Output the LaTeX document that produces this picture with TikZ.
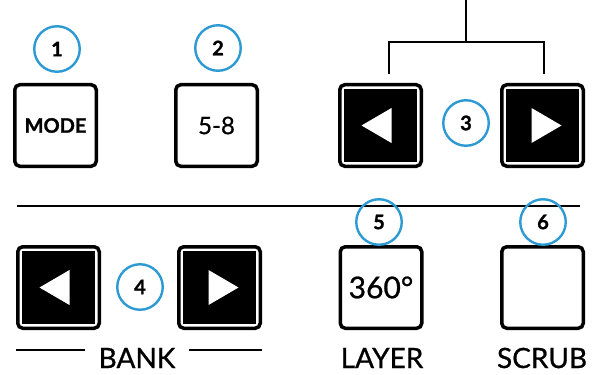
\documentclass[tikz,border=0pt]{standalone}
\usepackage{fontspec}
\setmainfont{Lato}
\newfontfamily\keyfont{Lato}[UprightFeatures={FakeBold=0.8}]
\newfontfamily\badgefont{Lato Bold}[UprightFeatures={FakeBold=1.2}]
\usetikzlibrary{positioning}
\definecolor{callout}{HTML}{2E9AD3}

\begin{document}
\begin{tikzpicture}[
    x=1pt, y=-1pt,
    key/.style={rectangle, draw=black, line width=3.5pt, rounded corners=5pt, fill=white, minimum size=81.5pt, inner sep=0pt},
    keyface/.style={rectangle, fill=black, minimum size=73pt, inner sep=0pt},
    badge/.style={circle, draw=callout, line width=2.4pt, minimum size=45.5pt, inner sep=0pt, font=\fontsize{20}{20}\badgefont},
    caption/.style={font=\fontsize{28}{28}\keyfont, inner sep=0pt}
]
\useasboundingbox (0,0) rectangle (593,374);

% top row keys
\node[key, font=\fontsize{20}{20}\badgefont] (mode) at (55.5,125.5) {MODE};
\node[key, font=\fontsize{24}{24}\keyfont] (page) at (216.5,125.5) {5-8};
\node[key] (navl) at (380.5,125.5) {};
\node[keyface] at (navl) {};
\node[key] (navr) at (542.5,125.5) {};
\node[keyface] at (navr) {};
\fill[white, shift={(navl.center)}] (-19,0) -- (11,-17.5) -- (11,17.5) -- cycle;
\fill[white, shift={(navr.center)}] (19,0) -- (-11,-17.5) -- (-11,17.5) -- cycle;

% bracket over the nav keys
\coordinate (brtop) at (466,0);
\coordinate (brmid) at (466,42);
\coordinate (brl) at (389,74);
\coordinate (brr) at (544,74);
\draw[line width=2.5pt] (brtop) -- (brmid);
\draw[line width=2.5pt] (brl) |- (brmid) -| (brr);

% divider
\coordinate (divl) at (17,206);
\coordinate (divr) at (580,206);
\draw[line width=2.8pt] (divl) -- (divr);

% bottom row keys
\node[key] (bankl) at (58.5,287.5) {};
\node[keyface] at (bankl) {};
\node[key] (bankr) at (219.5,287.5) {};
\node[keyface] at (bankr) {};
\fill[white, shift={(bankl.center)}] (-19,0) -- (11,-17.5) -- (11,17.5) -- cycle;
\fill[white, shift={(bankr.center)}] (19,0) -- (-11,-17.5) -- (-11,17.5) -- cycle;
\node[key, font=\fontsize{30}{30}\keyfont] (layer) at (381,287.5) {360°};
\node[key] (scrub) at (542.5,287.5) {};

% labels
\node[caption] (banktxt) at (137,358) {BANK};
\node[caption] (layertxt) at (382,358) {LAYER};
\node[caption] (scrubtxt) at (542,358) {SCRUB};
\coordinate (bkl) at (16,350);
\coordinate (bkr) at (262,350);
\draw[line width=2.5pt] (bkl) -- ([xshift=-13pt]banktxt.west |- bkl);
\draw[line width=2.5pt] (bkr) -- ([xshift=13pt]banktxt.east |- bkr);

% callout numbers
\node[badge] (c1) at (57,49) {1};
\node[badge] (c2) at (218,48) {2};
\node[badge] (c3) at (466,123) {3};
\node[badge] (c4) at (140,287) {4};
\node[badge] (c5) at (379,222) {5};
\node[badge] (c6) at (543,222) {6};

\end{tikzpicture}
\end{document}
